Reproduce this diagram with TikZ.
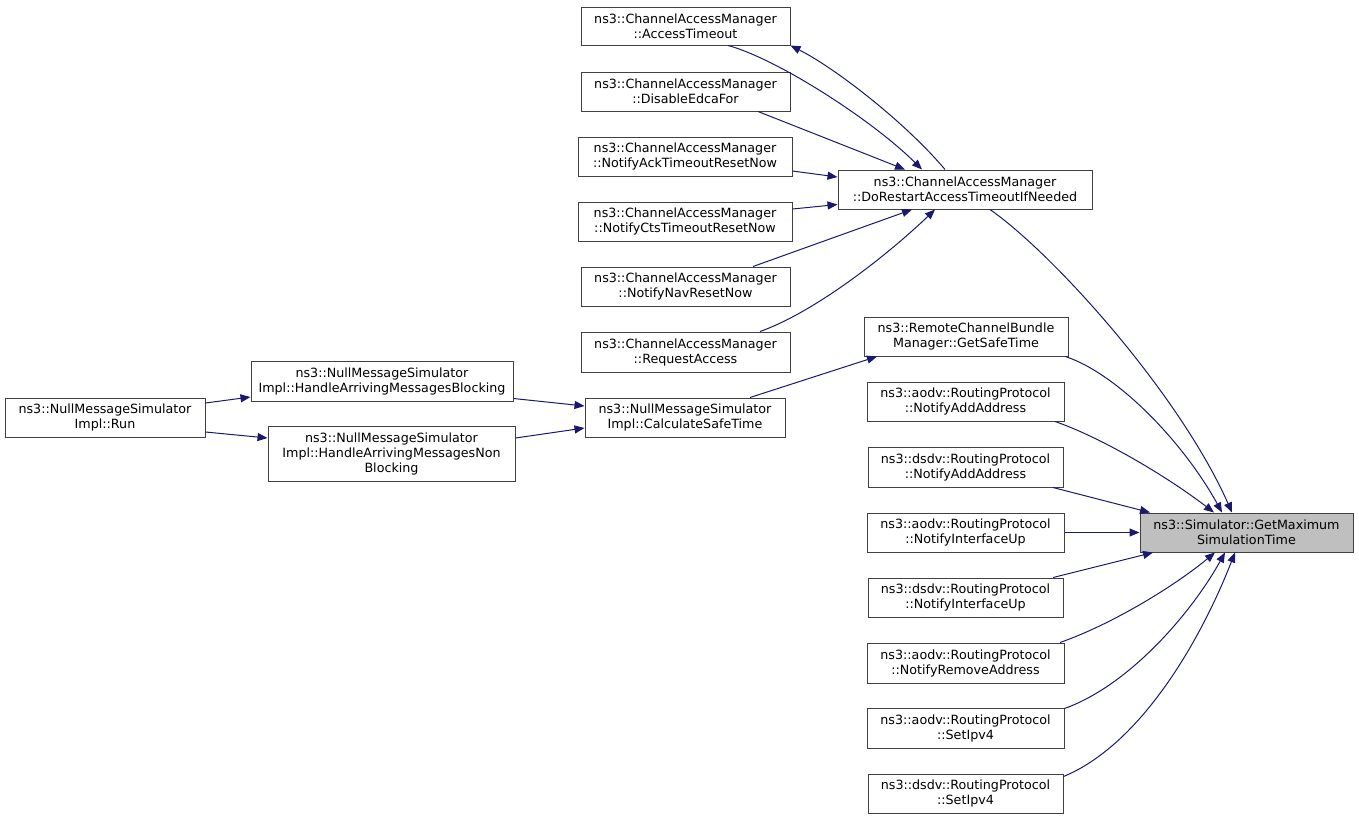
\documentclass[tikz,border=0pt]{standalone}
\usepackage{fontspec}
\setmainfont{DejaVu Sans}
\usetikzlibrary{arrows.meta}
\definecolor{edgecol}{HTML}{191970}
\definecolor{boxcol}{HTML}{404040}
\definecolor{hilite}{HTML}{BFBFBF}
\tikzset{
  fn/.style={draw=boxcol, line width=1pt, rectangle, inner sep=0pt, align=center,
    font=\fontsize{12.7}{15}\selectfont, fill=white},
  call/.style={draw=edgecol, line width=1pt, -{Triangle[length=10pt,width=8pt]}, color=edgecol}
}
\begin{document}
\begin{tikzpicture}[x=1pt,y=-1pt]
\useasboundingbox (0,0) rectangle (1359,820);
% left column of callers
\node[fn, minimum width=209pt, minimum height=38pt] (at) at (685.5,26) {ns3::ChannelAccessManager\\::AccessTimeout};
\node[fn, minimum width=209pt, minimum height=39pt] (de) at (685.5,91.5) {ns3::ChannelAccessManager\\::DisableEdcaFor};
\node[fn, minimum width=214pt, minimum height=39pt] (ack) at (685,156.5) {ns3::ChannelAccessManager\\::NotifyAckTimeoutResetNow};
\node[fn, minimum width=214pt, minimum height=39pt] (cts) at (685,221.5) {ns3::ChannelAccessManager\\::NotifyCtsTimeoutResetNow};
\node[fn, minimum width=209pt, minimum height=39pt] (nav) at (685.5,286.5) {ns3::ChannelAccessManager\\::NotifyNavResetNow};
\node[fn, minimum width=209pt, minimum height=40pt] (req) at (685.5,352) {ns3::ChannelAccessManager\\::RequestAccess};
\node[fn, minimum width=200pt, minimum height=39pt] (calc) at (685,417.5) {ns3::NullMessageSimulator\\Impl::CalculateSafeTime};
% middle column
\node[fn, minimum width=254pt, minimum height=39pt] (dor) at (965,189.5) {ns3::ChannelAccessManager\\::DoRestartAccessTimeoutIfNeeded};
\node[fn, minimum width=204pt, minimum height=39pt] (rem) at (966,336.5) {ns3::RemoteChannelBundle\\Manager::GetSafeTime};
\node[fn, minimum width=197pt, minimum height=39pt] (ana) at (965.5,401.5) {ns3::aodv::RoutingProtocol\\::NotifyAddAddress};
\node[fn, minimum width=195pt, minimum height=40pt] (dna) at (965.5,467) {ns3::dsdv::RoutingProtocol\\::NotifyAddAddress};
\node[fn, minimum width=197pt, minimum height=39pt] (ani) at (965.5,532.5) {ns3::aodv::RoutingProtocol\\::NotifyInterfaceUp};
\node[fn, minimum width=195pt, minimum height=39pt] (dni) at (965.5,597.5) {ns3::dsdv::RoutingProtocol\\::NotifyInterfaceUp};
\node[fn, minimum width=197pt, minimum height=40pt] (anr) at (965.5,663) {ns3::aodv::RoutingProtocol\\::NotifyRemoveAddress};
\node[fn, minimum width=197pt, minimum height=40pt] (as) at (965.5,728) {ns3::aodv::RoutingProtocol\\::SetIpv4};
\node[fn, minimum width=195pt, minimum height=39pt] (ds) at (965.5,793.5) {ns3::dsdv::RoutingProtocol\\::SetIpv4};
% target
\node[fn, fill=hilite, minimum width=213pt, minimum height=39pt] (gm) at (1246.5,532.5) {ns3::Simulator::GetMaximum\\SimulationTime};
% far left
\node[fn, minimum width=262pt, minimum height=40pt] (blk) at (382,381) {ns3::NullMessageSimulator\\Impl::HandleArrivingMessagesBlocking};
\node[fn, minimum width=247pt, minimum height=55pt] (nbk) at (391.5,453.5) {ns3::NullMessageSimulator\\Impl::HandleArrivingMessagesNon\\Blocking};
\node[fn, minimum width=200pt, minimum height=39pt] (run) at (105,417.5) {ns3::NullMessageSimulator\\Impl::Run};

% edges into DoRestart
\draw[call] ([xshift=42.5pt]at.south) .. controls (775,58) and (870,118) .. ([xshift=-43pt]dor.north);
\draw[call] ([xshift=-20pt]dor.north) .. controls (905,122) and (835,68) .. (at.south east);
\draw[call] ([xshift=72.5pt]de.south) -- ([xshift=-60pt]dor.north);
\draw[call] ([yshift=-14.5pt]ack.east) -- ([yshift=12.5pt]dor.west);
\draw[call] ([yshift=12.5pt]cts.east) -- ([yshift=-15pt]dor.west);
\draw[call] ([xshift=67.5pt]nav.north) -- ([xshift=-53pt]dor.south);
\draw[call] ([xshift=74.5pt]req.north) .. controls (820,310) and (895,248) .. ([xshift=-30pt]dor.south);
% edges into GetMaximumSimulationTime
\draw[call] ([xshift=25pt]dor.south) .. controls (1055,255) and (1180,395) .. ([xshift=-14.5pt]gm.north);
\draw[call] ([xshift=-3pt]rem.south east) .. controls (1120,375) and (1185,445) .. ([xshift=-24.5pt]gm.north);
\draw[call] ([xshift=89.5pt]ana.south) .. controls (1100,437) and (1165,475) .. ([xshift=-32.5pt]gm.north);
\draw[call] ([xshift=87.5pt]dna.south) -- ([xshift=-96.5pt]gm.north);
\draw[call] (ani.east) -- (gm.west);
\draw[call] ([xshift=87.5pt]dni.north) -- ([xshift=-93.5pt]gm.south);
\draw[call] ([xshift=94.5pt]anr.north) .. controls (1110,625) and (1172,588) .. ([xshift=-31.5pt]gm.south);
\draw[call] ([yshift=-1pt]as.north east) .. controls (1130,685) and (1192,612) .. ([xshift=-21.5pt]gm.south);
\draw[call] ([yshift=-3pt]ds.north east) .. controls (1140,745) and (1200,642) .. ([xshift=-11.5pt]gm.south);
% NullMessageSimulator chain
\draw[call] ([xshift=65pt]calc.north) -- ([xshift=-89pt]rem.south);
\draw[call] ([yshift=3pt]blk.south east) -- ([yshift=11.5pt]calc.west);
\draw[call] ([yshift=15.5pt]nbk.east) -- ([yshift=-10.5pt]calc.west);
\draw[call] ([yshift=14.5pt]run.east) -- ([yshift=-16pt]blk.west);
\draw[call] ([yshift=-14.5pt]run.east) -- ([yshift=15.5pt]nbk.west);
\end{tikzpicture}
\end{document}
